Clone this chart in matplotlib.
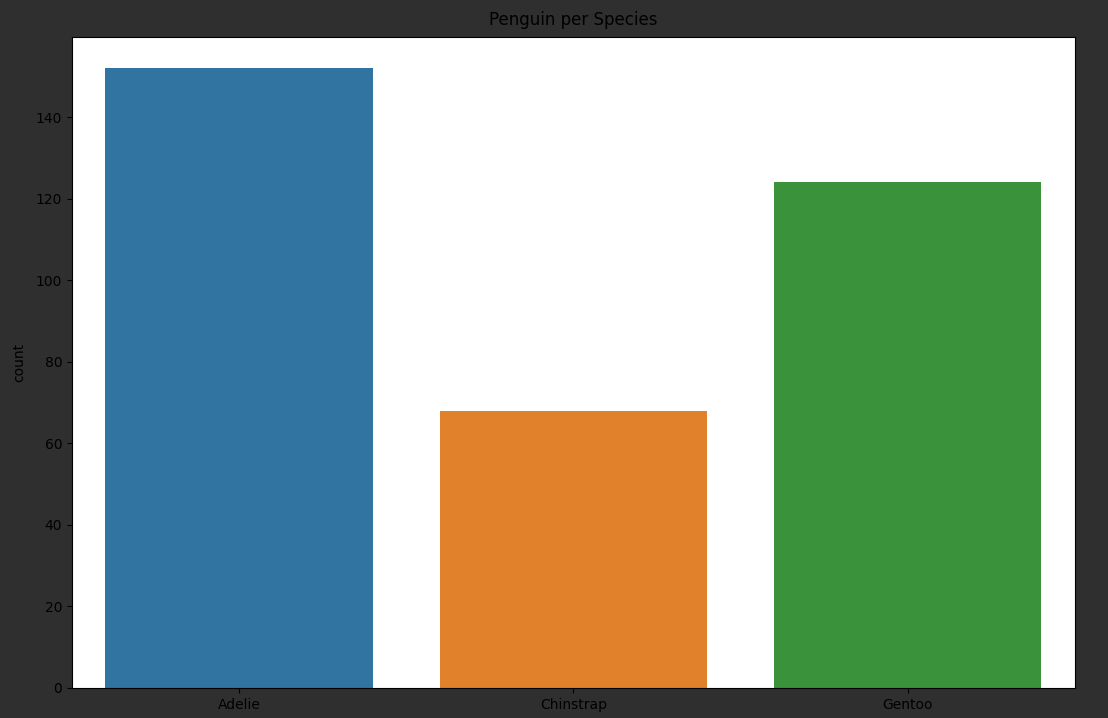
import matplotlib
matplotlib.use("Agg")
import matplotlib.pyplot as plt

species = ["Adelie", "Chinstrap", "Gentoo"]
counts = [152, 68, 124]
colors = ["#3274a1", "#e1812c", "#3a923a"]

fig = plt.figure(figsize=(11.08, 7.18), dpi=100, facecolor="#2f2f2f")
ax = fig.add_axes([0.065, 0.042, 0.905, 0.906])
ax.set_facecolor("white")

ax.bar(species, counts, width=0.8, color=colors)
ax.set_xlim(-0.5, 2.5)
ax.set_ylim(0, max(counts) * 1.05)

ax.set_ylabel("count", labelpad=7)
ax.set_title("Penguin per Species", pad=9)

plt.savefig("out.png", dpi=100, facecolor=fig.get_facecolor())
